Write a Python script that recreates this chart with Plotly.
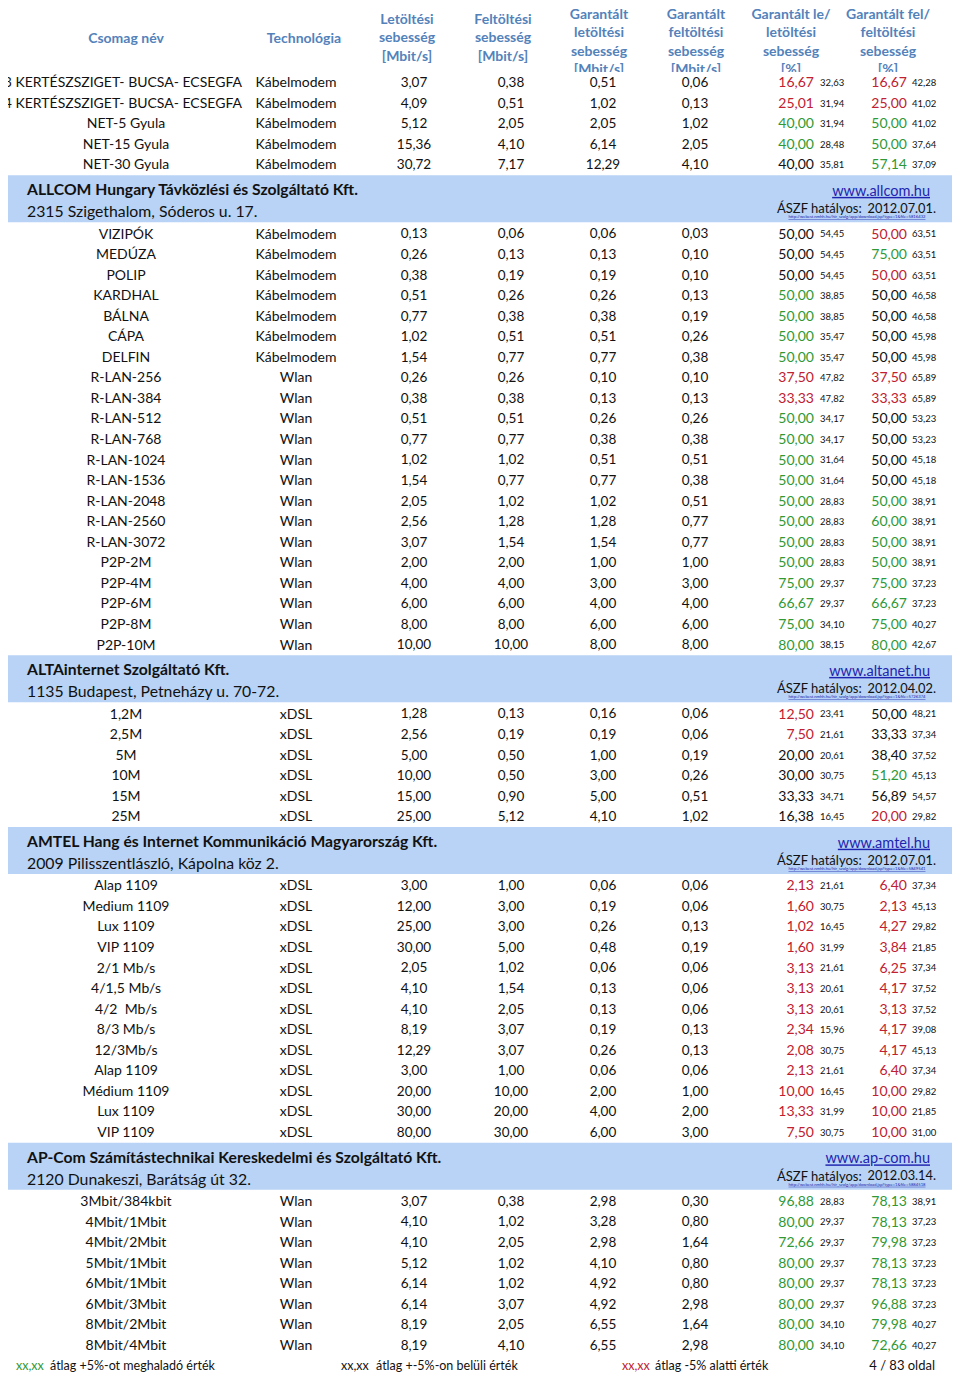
import plotly.graph_objects as go

# ---------------------------------------------------------------- data
header_labels = [
    "Csomag név",
    "Technológia",
    "Letöltési<br>sebesség<br>[Mbit/s]",
    "Feltöltési<br>sebesség<br>[Mbit/s]",
    "Garantált<br>letöltési<br>sebesség<br>[Mbit/s]",
    "Garantált<br>feltöltési<br>sebesség<br>[Mbit/s]",
    "Garantált le/<br>letöltési<br>sebesség<br>[%]",
    "Garantált fel/<br>feltöltési<br>sebesség<br>[%]",
]

company_names = [
    "ALLCOM Hungary Távközlési és Szolgáltató Kft.",
    "ALTAinternet Szolgáltató Kft.",
    "AMTEL Hang és Internet Kommunikáció Magyarország Kft.",
    "AP-Com Számítástechnikai Kereskedelmi és Szolgáltató Kft.",
]
company_addresses = [
    "2315 Szigethalom, Sóderos u. 17.",
    "1135 Budapest, Petneházy u. 70-72.",
    "2009 Pilisszentlászló, Kápolna köz 2.",
    "2120 Dunakeszi, Barátság út 32.",
]
company_sites = ["www.allcom.hu", "www.altanet.hu", "www.amtel.hu", "www.ap-com.hu"]
aszf_dates = ["2012.07.01.", "2012.04.02.", "2012.07.01.", "2012.03.14."]
aszf_links = [
    "http://webest.nmhh.hu/hir_szolg/app/download.jsp?type=1&amp;file=5816432",
    "http://webest.nmhh.hu/hir_szolg/app/download.jsp?type=1&amp;file=5726374",
    "http://webest.nmhh.hu/hir_szolg/app/download.jsp?type=1&amp;file=5849541",
    "http://webest.nmhh.hu/hir_szolg/app/download.jsp?type=1&amp;file=5884518",
]

# rows per block; the first block continues from the previous page (no company header)
block_sizes = [5, 21, 6, 13, 8]

packages = [
    "NET-3 KERTÉSZSZIGET- BUCSA- ECSEGFA", "NET-4 KERTÉSZSZIGET- BUCSA- ECSEGFA",
    "NET-5 Gyula", "NET-15 Gyula", "NET-30 Gyula",
    "VIZIPÓK", "MEDÚZA", "POLIP", "KARDHAL", "BÁLNA", "CÁPA", "DELFIN",
    "R-LAN-256", "R-LAN-384", "R-LAN-512", "R-LAN-768", "R-LAN-1024", "R-LAN-1536",
    "R-LAN-2048", "R-LAN-2560", "R-LAN-3072",
    "P2P-2M", "P2P-4M", "P2P-6M", "P2P-8M", "P2P-10M",
    "1,2M", "2,5M", "5M", "10M", "15M", "25M",
    "Alap 1109", "Medium 1109", "Lux 1109", "VIP 1109", "2/1 Mb/s", "4/1,5 Mb/s",
    "4/2  Mb/s", "8/3 Mb/s", "12/3Mb/s", "Alap 1109", "Médium 1109", "Lux 1109", "VIP 1109",
    "3Mbit/384kbit", "4Mbit/1Mbit", "4Mbit/2Mbit", "5Mbit/1Mbit", "6Mbit/1Mbit",
    "6Mbit/3Mbit", "8Mbit/2Mbit", "8Mbit/4Mbit",
]
technologies = (["Kábelmodem"] * 12 + ["Wlan"] * 14 + ["xDSL"] * 19 + ["Wlan"] * 8)

download = [
    3.07, 4.09, 5.12, 15.36, 30.72,
    0.13, 0.26, 0.38, 0.51, 0.77, 1.02, 1.54,
    0.26, 0.38, 0.51, 0.77, 1.02, 1.54, 2.05, 2.56, 3.07,
    2.00, 4.00, 6.00, 8.00, 10.00,
    1.28, 2.56, 5.00, 10.00, 15.00, 25.00,
    3.00, 12.00, 25.00, 30.00, 2.05, 4.10, 4.10, 8.19, 12.29, 3.00, 20.00, 30.00, 80.00,
    3.07, 4.10, 4.10, 5.12, 6.14, 6.14, 8.19, 8.19,
]
upload = [
    0.38, 0.51, 2.05, 4.10, 7.17,
    0.06, 0.13, 0.19, 0.26, 0.38, 0.51, 0.77,
    0.26, 0.38, 0.51, 0.77, 1.02, 0.77, 1.02, 1.28, 1.54,
    2.00, 4.00, 6.00, 8.00, 10.00,
    0.13, 0.19, 0.50, 0.50, 0.90, 5.12,
    1.00, 3.00, 3.00, 5.00, 1.02, 1.54, 2.05, 3.07, 3.07, 1.00, 10.00, 20.00, 30.00,
    0.38, 1.02, 2.05, 1.02, 1.02, 3.07, 2.05, 4.10,
]
guar_down = [
    0.51, 1.02, 2.05, 6.14, 12.29,
    0.06, 0.13, 0.19, 0.26, 0.38, 0.51, 0.77,
    0.10, 0.13, 0.26, 0.38, 0.51, 0.77, 1.02, 1.28, 1.54,
    1.00, 3.00, 4.00, 6.00, 8.00,
    0.16, 0.19, 1.00, 3.00, 5.00, 4.10,
    0.06, 0.19, 0.26, 0.48, 0.06, 0.13, 0.13, 0.19, 0.26, 0.06, 2.00, 4.00, 6.00,
    2.98, 3.28, 2.98, 4.10, 4.92, 4.92, 6.55, 6.55,
]
guar_up = [
    0.06, 0.13, 1.02, 2.05, 4.10,
    0.03, 0.10, 0.10, 0.13, 0.19, 0.26, 0.38,
    0.10, 0.13, 0.26, 0.38, 0.51, 0.38, 0.51, 0.77, 0.77,
    1.00, 3.00, 4.00, 6.00, 8.00,
    0.06, 0.06, 0.19, 0.26, 0.51, 1.02,
    0.06, 0.06, 0.13, 0.19, 0.06, 0.06, 0.06, 0.13, 0.13, 0.06, 1.00, 2.00, 3.00,
    0.30, 0.80, 1.64, 0.80, 0.80, 2.98, 1.64, 2.98,
]
guar_down_pct = [
    16.67, 25.01, 40.00, 40.00, 40.00,
    50.00, 50.00, 50.00, 50.00, 50.00, 50.00, 50.00,
    37.50, 33.33, 50.00, 50.00, 50.00, 50.00, 50.00, 50.00, 50.00,
    50.00, 75.00, 66.67, 75.00, 80.00,
    12.50, 7.50, 20.00, 30.00, 33.33, 16.38,
    2.13, 1.60, 1.02, 1.60, 3.13, 3.13, 3.13, 2.34, 2.08, 2.13, 10.00, 13.33, 7.50,
    96.88, 80.00, 72.66, 80.00, 80.00, 80.00, 80.00, 80.00,
]
avg_down_pct = [
    32.63, 31.94, 31.94, 28.48, 35.81,
    54.45, 54.45, 54.45, 38.85, 38.85, 35.47, 35.47,
    47.82, 47.82, 34.17, 34.17, 31.64, 31.64, 28.83, 28.83, 28.83,
    28.83, 29.37, 29.37, 34.10, 38.15,
    23.41, 21.61, 20.61, 30.75, 34.71, 16.45,
    21.61, 30.75, 16.45, 31.99, 21.61, 20.61, 20.61, 15.96, 30.75, 21.61, 16.45, 31.99, 30.75,
    28.83, 29.37, 29.37, 29.37, 29.37, 29.37, 34.10, 34.10,
]
guar_up_pct = [
    16.67, 25.00, 50.00, 50.00, 57.14,
    50.00, 75.00, 50.00, 50.00, 50.00, 50.00, 50.00,
    37.50, 33.33, 50.00, 50.00, 50.00, 50.00, 50.00, 60.00, 50.00,
    50.00, 75.00, 66.67, 75.00, 80.00,
    50.00, 33.33, 38.40, 51.20, 56.89, 20.00,
    6.40, 2.13, 4.27, 3.84, 6.25, 4.17, 3.13, 4.17, 4.17, 6.40, 10.00, 10.00, 10.00,
    78.13, 78.13, 79.98, 78.13, 78.13, 96.88, 79.98, 72.66,
]
avg_up_pct = [
    42.28, 41.02, 41.02, 37.64, 37.09,
    63.51, 63.51, 63.51, 46.58, 46.58, 45.98, 45.98,
    65.89, 65.89, 53.23, 53.23, 45.18, 45.18, 38.91, 38.91, 38.91,
    38.91, 37.23, 37.23, 40.27, 42.67,
    48.21, 37.34, 37.52, 45.13, 54.57, 29.82,
    37.34, 45.13, 29.82, 21.85, 37.34, 37.52, 37.52, 39.08, 45.13, 37.34, 29.82, 21.85, 31.00,
    38.91, 37.23, 37.23, 37.23, 37.23, 37.23, 40.27, 40.27,
]

legend_labels = ["átlag +5%-ot meghaladó érték", "átlag +-5%-on belüli érték", "átlag -5% alatti érték"]
page_label = "4 / 83 oldal"

# ---------------------------------------------------------------- style
FONT = "Lato"
BLACK = "#111111"
GREEN = "#2f9936"
RED = "#c0202f"
HEAD = "#5382bb"
BAND = "#b8d3f5"
LINK = "#1f24b0"

W, H = 960, 1374
OFF = 8  # default page margin around the plot div
HEAD_H = 72
ROW_H = 20.55
BAND_H = 48.5
DY = 1.5  # text nudge so glyphs sit on the row centre

head_x = [126, 304, 407, 503, 599, 696, 791, 888]
col_x = dict(tech=296, dl=414, ul=511, gdl=603, gul=695,
             pdl=814, adl=820, pul=907, aul=912)


def fmt(v):
    return f"{v:.2f}".replace(".", ",")


def mark(p, avg):
    d = p - avg
    return GREEN if d > 5 else RED if d < -5 else BLACK


def text_trace(x, y, text, pos, size, color, bold=False, yaxis="y"):
    return go.Scatter(
        x=x, y=y, text=text, mode="text", textposition=pos,
        textfont=dict(family=FONT, size=size, color=color, weight="bold" if bold else "normal"),
        hoverinfo="skip", showlegend=False, cliponaxis=True, yaxis=yaxis,
    )


# row / band vertical positions
y = HEAD_H
row_y, band_top = [], []
for b, n in enumerate(block_sizes):
    if b > 0:
        band_top.append(y)
        y += BAND_H
    for _ in range(n):
        row_y.append(y + ROW_H / 2 + DY)
        y += ROW_H
footer_y = y + 10.5 + DY

fig = go.Figure()

# header (4-line labels nudged down so the top line stays on the page)
head_y = [43 if lab.count("<br>") == 3 else 39 for lab in header_labels]
fig.add_trace(text_trace(head_x, head_y, header_labels, "middle center",
                         14, HEAD, bold=True, yaxis="y2"))

# package names: long ones overflow to the left of the column
long_name = [len(p) > 24 for p in packages]
fig.add_trace(text_trace([242 if l else 126 for l in long_name], row_y, packages,
                         ["middle left" if l else "middle center" for l in long_name], 14, BLACK))
fig.add_trace(text_trace([col_x["tech"]] * len(row_y), row_y, technologies, "middle center", 14, BLACK))
for key, vals in [("dl", download), ("ul", upload), ("gdl", guar_down), ("gul", guar_up)]:
    fig.add_trace(text_trace([col_x[key]] * len(row_y), row_y, [fmt(v) for v in vals],
                             "middle center", 13.5, BLACK))

fig.add_trace(text_trace([col_x["pdl"]] * len(row_y), row_y, [fmt(v) for v in guar_down_pct],
                         "middle left", 14, [mark(p, a) for p, a in zip(guar_down_pct, avg_down_pct)]))
fig.add_trace(text_trace([col_x["adl"]] * len(row_y), row_y, [fmt(v) for v in avg_down_pct],
                         "middle right", 9.5, BLACK))
fig.add_trace(text_trace([col_x["pul"]] * len(row_y), row_y, [fmt(v) for v in guar_up_pct],
                         "middle left", 14, [mark(p, a) for p, a in zip(guar_up_pct, avg_up_pct)]))
fig.add_trace(text_trace([col_x["aul"]] * len(row_y), row_y, [fmt(v) for v in avg_up_pct],
                         "middle right", 9.5, BLACK))

# company bands
shapes = []
for t in band_top:
    shapes.append(dict(type="rect", xref="x", yref="y", x0=OFF, x1=955, y0=t + 0.5, y1=t + BAND_H - 1,
                       fillcolor=BAND, line_width=0, layer="below"))
n_c = len(band_top)
fig.add_trace(text_trace([27] * n_c, [t + 15 + DY for t in band_top], company_names,
                         "middle right", 15.7, BLACK, bold=True))
fig.add_trace(text_trace([27] * n_c, [t + 37 + DY for t in band_top], company_addresses,
                         "middle right", 15.8, BLACK))
fig.add_trace(text_trace([930] * n_c, [t + 16 + DY for t in band_top],
                         [f"<u>{s}</u>" for s in company_sites], "middle left", 14.5, LINK))
fig.add_trace(text_trace([777] * n_c, [t + 33.5 + DY for t in band_top], ["ÁSZF hatályos:"] * n_c,
                         "middle right", 13, BLACK))
fig.add_trace(text_trace([936] * n_c, [t + 33.5 + DY for t in band_top], aszf_dates,
                         "middle left", 12.8, BLACK))
fig.add_trace(text_trace([857] * n_c, [t + 42.5 for t in band_top],
                         [f"<u>{s}</u>" for s in aszf_links], "middle center", 4.2, LINK))

# footer legend
fig.add_trace(text_trace([16, 341, 622], [footer_y] * 3, ["xx,xx"] * 3, "middle right", 12.5,
                         [GREEN, BLACK, RED]))
fig.add_trace(text_trace([50, 376, 655], [footer_y] * 3, legend_labels, "middle right", 12.5, BLACK))
fig.add_trace(text_trace([935], [footer_y], [page_label], "middle left", 13, BLACK))

# the plot div sits OFF px in from the page corner; axes are laid out in page pixels
split = 1 - (HEAD_H - OFF) / (H - OFF)
fig.update_layout(
    width=W - OFF, height=H - OFF,
    margin=dict(l=0, r=0, t=0, b=0),
    paper_bgcolor="white", plot_bgcolor="white",
    shapes=shapes,
    xaxis=dict(range=[OFF, W], visible=False, fixedrange=True),
    yaxis=dict(range=[H, HEAD_H], domain=[0, split], visible=False, fixedrange=True),
    yaxis2=dict(range=[HEAD_H, OFF], domain=[split, 1], visible=False, fixedrange=True,
                anchor="x"),
)

fig.write_html("out.html")
